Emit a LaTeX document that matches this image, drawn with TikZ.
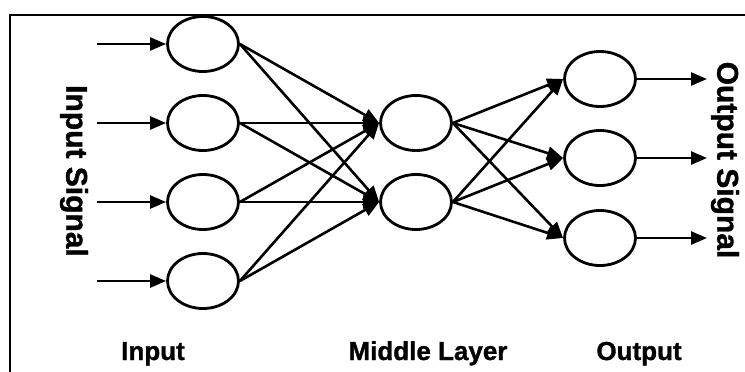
\documentclass[tikz,border=0pt]{standalone}
\usepackage{fontspec}
\setmainfont[BoldFeatures={FakeBold=1.2}]{Liberation Sans}
\usetikzlibrary{arrows.meta,shapes.geometric}
\begin{document}
\begin{tikzpicture}[x=1pt,y=-1pt,
  neuron/.style={draw,line width=2.8pt,ellipse,minimum width=71pt,minimum height=55pt,inner sep=0pt},
  link/.style={line width=2.6pt,-{Triangle[length=16pt,width=13pt]}},
  vlabel/.style={font=\bfseries\fontsize{30}{30}\selectfont,rotate=-90},
  hlabel/.style={font=\bfseries\fontsize{26}{26}\selectfont,anchor=base}]
\useasboundingbox (0,0) rectangle (745,372);
% frame
\draw[line width=2.6pt] (10,372) -- (10,15) -- (745,15);

% input layer
\foreach \i/\y in {1/44,2/123,3/202,4/281}{
  \node[neuron] (i\i) at (203,\y) {};
  \coordinate (s\i) at (97,\y);
  \draw[link] (s\i) -- (i\i.west);
}
% middle layer
\node[neuron] (m1) at (416,123) {};
\node[neuron] (m2) at (416,202) {};
% output layer
\foreach \k/\y in {1/79,2/158,3/238}{
  \node[neuron] (o\k) at (600,\y) {};
  \coordinate (t\k) at (707,\y);
  \draw[link] (o\k.east) -- (t\k);
}
% connections
\foreach \i in {1,...,4}{
  \foreach \j in {1,2}{
    \draw[link] (i\i.east) -- (m\j.west);
  }
}
\foreach \j in {1,2}{
  \foreach \k in {1,2,3}{
    \draw[link] (m\j.east) -- (o\k.west);
  }
}

% labels
\node[vlabel] (insig) at (74,171) {Input Signal};
\node[vlabel] (outsig) at (725,160) {Output Signal};
\node[hlabel] (lin) at (153,360) {Input};
\node[hlabel] (lmid) at (428,360) {Middle Layer};
\node[hlabel] (lout) at (639,360) {Output};
\end{tikzpicture}
\end{document}
